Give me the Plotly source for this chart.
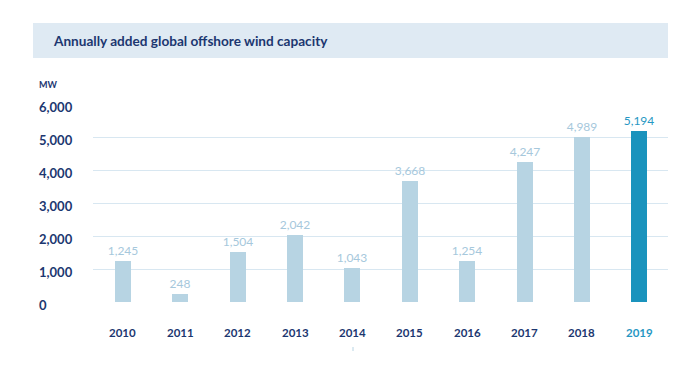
import plotly.graph_objects as go

years = ["2010", "2011", "2012", "2013", "2014", "2015", "2016", "2017", "2018", "2019"]
capacity_mw = [1245, 248, 1504, 2042, 1043, 3668, 1254, 4247, 4989, 5194]
y_ticks = [0, 1000, 2000, 3000, 4000, 5000, 6000]
title_text = "Annually added global offshore wind capacity"
unit_text = "MW"

LIGHT = "#b7d4e3"
DARK = "#1a93bd"
LIGHT_TXT = "#a6c8dc"
DARK_TXT = "#2797c3"
NAVY = "#1c3770"
FONT = "Lato"

bar_colors = [DARK if y == "2019" else LIGHT for y in years]
text_colors = [DARK_TXT if y == "2019" else LIGHT_TXT for y in years]
label_colors = [DARK_TXT if y == "2019" else NAVY for y in years]

fig = go.Figure()
fig.add_trace(go.Bar(
    x=list(range(len(years))),
    y=capacity_mw,
    width=0.28,
    marker=dict(color=bar_colors, line=dict(width=0)),
    text=[f"{v:,}" for v in capacity_mw],
    textposition="outside",
    constraintext="none",
    outsidetextfont=dict(color=text_colors, size=12, family=FONT),
    cliponaxis=False,
    hoverinfo="skip",
))

# page body has an 8px margin, so the figure is drawn 8px in
OFF = 8
W, H = 696 - OFF, 367 - OFF
ml, mt = 93 - OFF, 104 - OFF
mr, mb = 28, 65
pw, ph = W - ml - mr, H - mt - mb

def px_x(x):
    return (x - OFF - ml) / pw

def px_y(y):
    return (H - mb - (y - OFF)) / ph

annotations = []
for t in y_ticks:
    annotations.append(dict(
        x=px_x(37), xref="paper", y=t, yref="y", text=f"<b>{t:,}</b>",
        showarrow=False, xanchor="left", yanchor="middle", yshift=-3,
        font=dict(size=13, color=NAVY, family=FONT),
    ))
for i, y in enumerate(years):
    annotations.append(dict(
        x=i, xref="x", y=px_y(332), yref="paper", text=f"<b>{y}</b>",
        showarrow=False, xanchor="center", yanchor="middle",
        font=dict(size=11.5, color=label_colors[i], family=FONT),
    ))
annotations.append(dict(
    x=px_x(37), xref="paper", y=px_y(85), yref="paper", text=f"<b>{unit_text}</b>",
    showarrow=False, xanchor="left", yanchor="middle",
    font=dict(size=9, color=NAVY, family=FONT),
))
annotations.append(dict(
    x=px_x(51), xref="paper", y=px_y(41), yref="paper", text=f"<b>{title_text}</b>",
    showarrow=False, xanchor="left", yanchor="middle",
    font=dict(size=13.6, color=NAVY, family=FONT),
))

shapes = [
    dict(type="rect", xref="paper", yref="paper",
         x0=px_x(33), x1=px_x(668), y0=px_y(58), y1=px_y(23),
         fillcolor="#dfeaf3", line=dict(width=0), layer="below"),
    dict(type="line", xref="paper", yref="paper",
         x0=px_x(353), x1=px_x(353), y0=px_y(351), y1=px_y(347),
         line=dict(color="#b7d4e3", width=1)),
]

fig.update_layout(
    width=W, height=H,
    margin=dict(l=ml, r=mr, t=mt, b=mb),
    paper_bgcolor="white", plot_bgcolor="white",
    showlegend=False,
    bargap=0,
    xaxis=dict(range=[-0.52, 9.5], showticklabels=False, showgrid=False,
               zeroline=False, showline=False, fixedrange=True),
    yaxis=dict(range=[0, 6000], tickvals=y_ticks, showticklabels=False,
               showgrid=True, gridcolor="#d8e7f1", gridwidth=1,
               zeroline=False, showline=False, fixedrange=True),
    annotations=annotations,
    shapes=shapes,
)

fig.write_html("out.html")
